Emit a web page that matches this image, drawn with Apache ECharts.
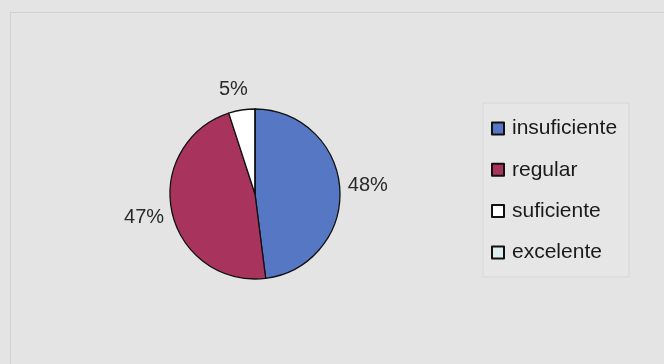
<!DOCTYPE html>
<html>
<head>
<meta charset="utf-8">
<script src="https://cdn.jsdelivr.net/npm/echarts@6/dist/echarts.min.js"></script>
<style>
  html, body { margin: 0; padding: 0; background: #e4e4e4; }
  #chart { width: 664px; height: 364px; }
</style>
</head>
<body>
<div id="chart"></div>
<script>
const categories = ["insuficiente", "regular", "suficiente", "excelente"];
const values = [48, 47, 5, 0];
const colors = ["#5677c4", "#a8345e", "#ffffff", "#dcefef"];

// small nudges so the labels sit where the original put them
const labelNudge = [{ dy: -3 }, { dy: 4 }, { align: "center" }, {}];

const chart = echarts.init(document.getElementById("chart"));

chart.setOption({
  backgroundColor: "#e4e4e4",
  animation: false,
  graphic: [
    {
      type: "rect",
      shape: { x: 10.5, y: 12.5, width: 660, height: 360 },
      style: { fill: "none", stroke: "#d2d2d2", lineWidth: 1 },
      silent: true,
    },
  ],
  legend: {
    orient: "vertical",
    left: 483,
    top: 103,
    padding: [15, 12, 14, 8],
    itemGap: 20.3,
    itemWidth: 12,
    itemHeight: 12,
    icon: "rect",
    backgroundColor: "#e6e6e6",
    borderColor: "#d8d8d8",
    borderWidth: 1,
    data: categories,
    textStyle: {
      fontFamily: "Liberation Sans, Arial, sans-serif",
      fontSize: 21,
      color: "#1a1a1a",
      padding: [0, 0, 0, 3],
    },
  },
  series: [
    {
      type: "pie",
      center: [255, 194],
      radius: 85,
      startAngle: 90,
      clockwise: true,
      stillShowZeroSum: true,
      itemStyle: { borderColor: "#111", borderWidth: 1.3 },
      label: {
        show: true,
        position: "outside",
        fontFamily: "Liberation Sans, Arial, sans-serif",
        fontSize: 20,
        color: "#2a2a2a",
        formatter: (p) => (p.value > 0 ? p.value + "%" : ""),
      },
      labelLine: { show: false, length: 3, length2: 0 },
      labelLayout: (p) => labelNudge[p.dataIndex] || {},
      emphasis: { disabled: true },
      data: categories.map((name, i) => ({
        name,
        value: values[i],
        itemStyle: { color: colors[i] },
        labelLine: i === 2 ? { length: 21 } : undefined,
      })),
    },
  ],
});
</script>
</body>
</html>
